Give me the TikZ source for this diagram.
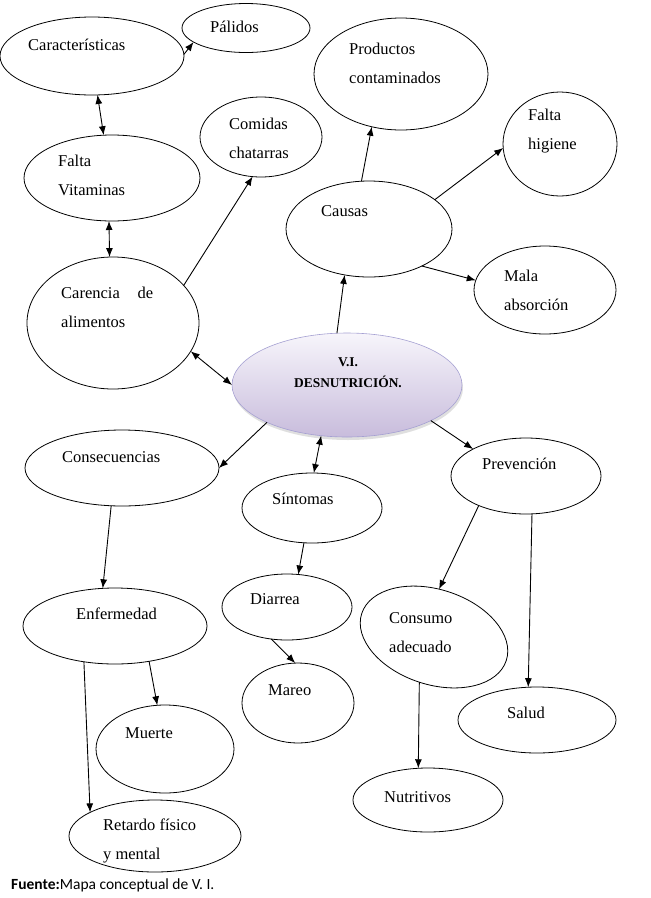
\documentclass[tikz,border=0pt]{standalone}
\usepackage{fontspec}
\setmainfont{Liberation Serif}
\newfontfamily\fuentepie{Carlito}
\usetikzlibrary{shapes.geometric,arrows.meta,shadows}

\begin{document}
\begin{tikzpicture}[x=1pt,y=-1pt,
  burbuja/.style={draw,ellipse,inner sep=0pt,outer sep=0pt,line width=0.8pt},
  txt/.style={anchor=base west,inner sep=0pt,align=left,font=\fontsize{16.5}{29}\selectfont},
  flecha/.style={-{Latex[length=9pt,width=7pt]},line width=0.9pt},
  doble/.style={{Latex[length=9pt,width=7pt]}-{Latex[length=9pt,width=7pt]},line width=0.9pt}]

\useasboundingbox[fill=white] (0,0) rectangle (651,898);

% centro
\node[burbuja,draw={rgb,255:red,165;green,160;blue,210},line width=0.6pt,
  top color={rgb,255:red,247;green,245;blue,251},bottom color={rgb,255:red,200;green,188;blue,220},
  drop shadow={opacity=0.25,shadow xshift=1pt,shadow yshift=-3pt},
  minimum width=230pt,minimum height=104pt] (vi) at (347,385) {};
\node[txt,anchor=base,align=center,font=\bfseries\fontsize{13.4}{21}\selectfont] (vi-t) at (348,387) {V.I.\\DESNUTRICIÓN.};

% izquierda arriba
\node[burbuja,minimum width=184pt,minimum height=78pt] (carac) at (92,56) {};
\node[txt] (carac-t) at (28,50) {Características};
\node[burbuja,minimum width=128pt,minimum height=49pt] (pal) at (246,28) {};
\node[txt] (pal-t) at (210,32) {Pálidos};
\node[burbuja,minimum width=176pt,minimum height=86pt] (vit) at (112,178) {};
\node[txt] (vit-t) at (58,195) {Falta\\Vitaminas};
\node[burbuja,minimum width=172pt,minimum height=132pt] (car) at (113,323) {};
\node[txt] (car-t) at (61,327) {\makebox[92pt][s]{Carencia de}\\alimentos};
\node[burbuja,minimum width=122pt,minimum height=80pt] (com) at (261,137) {};
\node[txt] (com-t) at (229,158) {Comidas\\chatarras};

% causas
\node[burbuja,minimum width=174pt,minimum height=112pt] (prod) at (401,74) {};
\node[txt] (prod-t) at (349,83) {Productos\\contaminados};
\node[burbuja,minimum width=114pt,minimum height=104pt] (hig) at (560,144) {};
\node[txt] (hig-t) at (528,149) {Falta\\higiene};
\node[burbuja,minimum width=166pt,minimum height=96pt] (cau) at (369,229) {};
\node[txt] (cau-t) at (321,216) {Causas};
\node[burbuja,minimum width=142pt,minimum height=88pt] (mal) at (545,290) {};
\node[txt] (mal-t) at (504,310) {Mala\\absorción};

% consecuencias y síntomas
\node[burbuja,minimum width=194pt,minimum height=76pt] (cons) at (122,468) {};
\node[txt] (cons-t) at (62,462) {Consecuencias};
\node[burbuja,minimum width=140pt,minimum height=70pt] (sin) at (312,508) {};
\node[txt] (sin-t) at (272,504) {Síntomas};
\node[burbuja,minimum width=130pt,minimum height=66pt] (dia) at (287,607) {};
\node[txt] (dia-t) at (250,604) {Diarrea};
\node[burbuja,minimum width=112pt,minimum height=80pt] (mar) at (298,703) {};
\node[txt] (mar-t) at (268,695) {Mareo};
\node[burbuja,minimum width=184pt,minimum height=76pt] (enf) at (115,626) {};
\node[txt] (enf-t) at (76,619) {Enfermedad};
\node[burbuja,minimum width=138pt,minimum height=88pt] (mue) at (165,749) {};
\node[txt] (mue-t) at (125,738) {Muerte};
\node[burbuja,minimum width=172pt,minimum height=72pt] (ret) at (155,836) {};
\node[txt] (ret-t) at (103,859) {Retardo físico\\y mental};

% prevención
\node[burbuja,minimum width=150pt,minimum height=76pt] (prev) at (526,476) {};
\node[txt] (prev-t) at (482,469) {Prevención};
\node[burbuja,rotate=-18,minimum width=152pt,minimum height=95pt] (cad) at (434,637) {};
\node[txt] (cad-t) at (389,652) {Consumo\\adecuado};
\node[burbuja,minimum width=158pt,minimum height=66pt] (sal) at (537,720) {};
\node[txt] (sal-t) at (507,718) {Salud};
\node[burbuja,minimum width=150pt,minimum height=64pt] (nut) at (428,800) {};
\node[txt] (nut-t) at (384,802) {Nutritivos};

% flechas
\draw[flecha] (carac.1) -- (pal.-165);
\draw[doble] (carac.-82) -- (vit.101);
\draw[doble] (vit.-94) -- (car.93);
\draw[flecha] (car.28.5) -- (com.-102);
\draw[doble] (car.-20) -- (vi.180);
\draw[flecha] (vi.101) -- (cau.-118);
\draw[flecha] (cau.99) -- (prod.-119.5);
\draw[flecha] (cau.24) -- (hig.-176);
\draw[flecha] (cau.-35) -- (mal.172.7);
\draw[flecha] (vi.-155) -- (cons.-0.6);
\draw[doble] (vi.-117) -- (sin.87);
\draw[flecha] (vi.-23.4) -- (prev.153);
\draw[flecha] (cons.-106) -- (enf.108);
\draw[flecha] (sin.-103) -- (dia.71.6);
\draw[flecha] (dia.-116) -- (mar.94.6);
\draw[flecha] (enf.-46.6) -- (mue.100);
\draw[flecha] (enf.-131) -- (ret.160.8);
\draw[flecha] (prev.-148.7) -- (cad.102.3);
\draw[flecha] (prev.-81) -- (sal.105.7);
\draw[flecha] (cad.-90.4) -- (nut.107.4);

\node[anchor=base west,inner sep=0pt,font=\fuentepie\fontsize{15.5}{18}\selectfont] (fuente) at (11,889) {\textbf{Fuente:}Mapa conceptual de V. I.};
\end{tikzpicture}
\end{document}
